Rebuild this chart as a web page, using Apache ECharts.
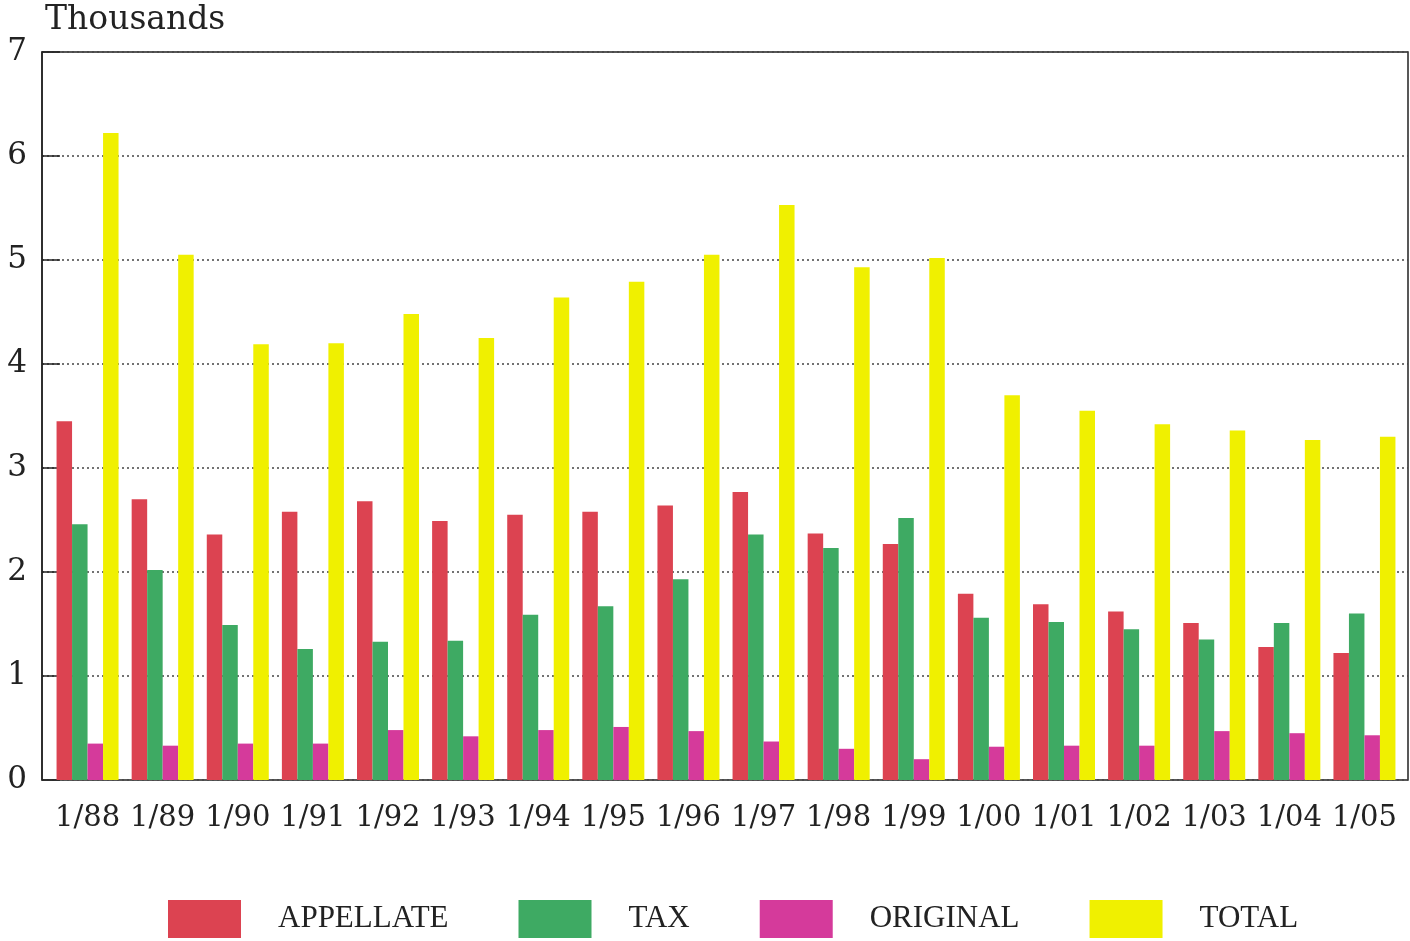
<!DOCTYPE html>
<html>
<head>
<meta charset="utf-8">
<script src="https://cdn.jsdelivr.net/npm/echarts@6/dist/echarts.min.js"></script>
<style>
html,body{margin:0;padding:0;background:#fff;}
#chart{width:1410px;height:941px;}
</style>
</head>
<body>
<div id="chart"></div>
<script>
const categories = ['1/88','1/89','1/90','1/91','1/92','1/93','1/94','1/95','1/96','1/97','1/98','1/99','1/00','1/01','1/02','1/03','1/04','1/05'];
const appellate = [3.45,2.70,2.36,2.58,2.68,2.49,2.55,2.58,2.64,2.77,2.37,2.27,1.79,1.69,1.62,1.51,1.28,1.22];
const tax       = [2.46,2.02,1.49,1.26,1.33,1.34,1.59,1.67,1.93,2.36,2.23,2.52,1.56,1.52,1.45,1.35,1.51,1.60];
const original  = [0.35,0.33,0.35,0.35,0.48,0.42,0.48,0.51,0.47,0.37,0.30,0.20,0.32,0.33,0.33,0.47,0.45,0.43];
const total     = [6.22,5.05,4.19,4.20,4.48,4.25,4.64,4.79,5.05,5.53,4.93,5.02,3.70,3.55,3.42,3.36,3.27,3.30];
const yTicks = [0,1,2,3,4,5,6,7];
const seriesNames = ['APPELLATE','TAX','ORIGINAL','TOTAL'];
const seriesColors = ['#dc4351','#3eaa63','#d53a9b','#f0f000'];

const chart = echarts.init(document.getElementById('chart'));
const values = [appellate, tax, original, total];
const textColor = '#222222';

chart.setOption({
  animation: false,
  backgroundColor: '#ffffff',
  title: {
    text: 'Thousands',
    left: 40, top: -1,
    textStyle: {fontFamily: 'DejaVu Serif', fontSize: 33, fontWeight: 'normal', color: textColor}
  },
  legend: {
    data: seriesNames,
    left: 163, top: 895,
    itemWidth: 73, itemHeight: 38, itemGap: 70,
    icon: 'rect',
    textStyle: {fontFamily: 'Liberation Serif', fontSize: 31, color: textColor, padding: [16,0,0,32]}
  },
  grid: [
    {left: 50, right: 8, top: 52, bottom: 161},
    {left: 42, right: 2, top: 52, bottom: 161, show: true, borderColor: '#222', borderWidth: 1.5, backgroundColor: 'transparent'}
  ],
  xAxis: [
    {
      type: 'category', gridIndex: 0, data: categories,
      axisLine: {show: false}, axisTick: {show: false},
      axisLabel: {interval: 0, margin: 24, fontFamily: 'DejaVu Serif', fontSize: 29, color: textColor}
    },
    {type: 'value', gridIndex: 1, min: 0, max: 1, show: false}
  ],
  yAxis: [
    {type: 'value', gridIndex: 0, min: 0, max: 7, interval: 1, show: false},
    {
      type: 'value', gridIndex: 1, min: 0, max: 7, interval: 1, data: yTicks,
      axisLine: {show: true, lineStyle: {color: '#222', width: 1.5}},
      axisTick: {show: true, inside: true, length: 18, lineStyle: {color: '#222', width: 1.5}},
      axisLabel: {margin: 15, fontFamily: 'DejaVu Serif', fontSize: 31, color: textColor},
      splitLine: {show: true, lineStyle: {color: '#444', width: 1.6, type: [2, 3]}}
    }
  ],
  series: seriesNames.map((name, i) => ({
    name: name,
    type: 'bar',
    xAxisIndex: 0, yAxisIndex: 0,
    data: values[i],
    barWidth: 15.5,
    barGap: '0%',
    itemStyle: {color: seriesColors[i]}
  }))
});
</script>
</body>
</html>
